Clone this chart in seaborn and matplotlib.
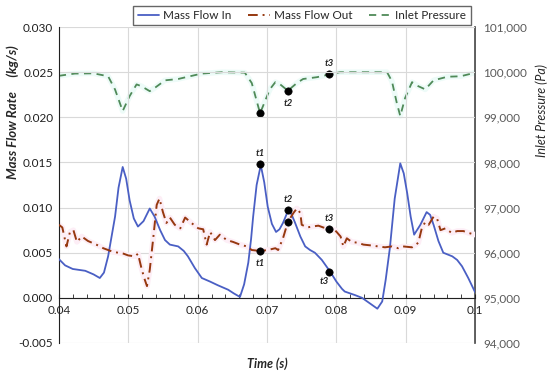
import numpy as np
import pandas as pd
import seaborn as sns
import matplotlib.pyplot as plt
from matplotlib.ticker import MultipleLocator, FuncFormatter

# mass flow in (kg/s)
t_in = [0.0400, 0.0409, 0.0420, 0.0438, 0.0450, 0.0459, 0.0465, 0.0471, 0.0476, 0.0481,
        0.0486, 0.0492, 0.0497, 0.0502, 0.0508, 0.0514, 0.0522, 0.0531, 0.0538, 0.0546,
        0.0553, 0.0560, 0.0572, 0.0580, 0.0586, 0.0596, 0.0606, 0.0618, 0.0629, 0.0644,
        0.0652, 0.0661, 0.0667, 0.0673, 0.0677, 0.0680, 0.0685, 0.0691, 0.0696, 0.0701,
        0.0707, 0.0713, 0.0718, 0.0723, 0.0730, 0.0735, 0.0740, 0.0748, 0.0755, 0.0762,
        0.0769, 0.0779, 0.0791, 0.0800, 0.0808, 0.0812, 0.0827, 0.0837, 0.0848, 0.0859,
        0.0866, 0.0871, 0.0877, 0.0884, 0.0892, 0.0897, 0.0902, 0.0907, 0.0912, 0.0921,
        0.0930, 0.0935, 0.0940, 0.0947, 0.0954, 0.0967, 0.0974, 0.0981, 0.0990, 0.1000]
flow_in = [0.0043, 0.0036, 0.0032, 0.0030, 0.0026, 0.0022, 0.0028, 0.0046, 0.0068, 0.0090,
           0.0122, 0.0145, 0.0132, 0.0108, 0.0088, 0.0079, 0.0085, 0.0099, 0.0090, 0.0075,
           0.0064, 0.0059, 0.0057, 0.0052, 0.0046, 0.0033, 0.0022, 0.0018, 0.0014, 0.0009,
           0.0005, 0.0001, 0.0015, 0.0039, 0.0065, 0.0090, 0.0125, 0.0147, 0.0128, 0.0101,
           0.0082, 0.0073, 0.0076, 0.0083, 0.0096, 0.0093, 0.0084, 0.0068, 0.0057, 0.0053,
           0.0050, 0.0042, 0.0029, 0.0018, 0.0010, 0.0007, 0.0003, 0.0000, -0.0006, -0.0012,
           -0.0004, 0.0020, 0.0055, 0.0110, 0.0149, 0.0138, 0.0116, 0.0090, 0.0070, 0.0081,
           0.0095, 0.0092, 0.0081, 0.0063, 0.0050, 0.0046, 0.0042, 0.0035, 0.0022, 0.0006]

# mass flow out (kg/s)
t_out = [0.0400, 0.0405, 0.0411, 0.0416, 0.0421, 0.0426, 0.0433, 0.0442, 0.0454, 0.0464,
         0.0478, 0.0493, 0.0500, 0.0510, 0.0514, 0.0519, 0.0523, 0.0527, 0.0531, 0.0536,
         0.0541, 0.0545, 0.0550, 0.0555, 0.0560, 0.0567, 0.0575, 0.0582, 0.0591, 0.0601,
         0.0608, 0.0613, 0.0618, 0.0625, 0.0632, 0.0642, 0.0651, 0.0661, 0.0671, 0.0678,
         0.0690, 0.0701, 0.0712, 0.0716, 0.0723, 0.0730, 0.0738, 0.0743, 0.0748, 0.0750,
         0.0758, 0.0765, 0.0774, 0.0781, 0.0791, 0.0798, 0.0806, 0.0810, 0.0815, 0.0822,
         0.0831, 0.0839, 0.0851, 0.0860, 0.0870, 0.0880, 0.0889, 0.0896, 0.0909, 0.0918,
         0.0923, 0.0928, 0.0933, 0.0940, 0.0945, 0.0950, 0.0957, 0.0966, 0.0974, 0.0983,
         0.0990, 0.1000]
flow_out = [0.0081, 0.0078, 0.0057, 0.0073, 0.0075, 0.0062, 0.0068, 0.0063, 0.0059, 0.0055,
            0.0051, 0.0049, 0.0047, 0.0046, 0.0049, 0.0033, 0.0022, 0.0013, 0.0031, 0.0066,
            0.0103, 0.0110, 0.0095, 0.0083, 0.0089, 0.0081, 0.0077, 0.0089, 0.0083, 0.0077,
            0.0076, 0.0059, 0.0073, 0.0064, 0.0070, 0.0064, 0.0062, 0.0059, 0.0057, 0.0053,
            0.0052, 0.0053, 0.0055, 0.0053, 0.0066, 0.0084, 0.0094, 0.0099, 0.0094, 0.0081,
            0.0078, 0.0079, 0.0080, 0.0078, 0.0076, 0.0075, 0.0068, 0.0057, 0.0066, 0.0062,
            0.0061, 0.0059, 0.0058, 0.0057, 0.0056, 0.0057, 0.0055, 0.0057, 0.0056, 0.0061,
            0.0077, 0.0084, 0.0081, 0.0090, 0.0088, 0.0075, 0.0077, 0.0072, 0.0074, 0.0074,
            0.0072, 0.0070]

# inlet pressure (Pa)
t_p = [0.0400, 0.0423, 0.0450, 0.0471, 0.0481, 0.0492, 0.0502, 0.0512, 0.0519, 0.0531,
       0.0538, 0.0553, 0.0572, 0.0586, 0.0606, 0.0635, 0.0668, 0.0678, 0.0690, 0.0704,
       0.0712, 0.0719, 0.0730, 0.0743, 0.0752, 0.0772, 0.0790, 0.0805, 0.0873, 0.0880,
       0.0887, 0.0892, 0.0899, 0.0909, 0.0918, 0.0928, 0.0940, 0.0960, 0.0979, 0.1000]
pressure = [99920, 99970, 99975, 99910, 99616, 99140, 99470, 99730, 99690, 99580,
            99650, 99820, 99850, 99900, 99970, 100000, 99990, 99760, 99090, 99620,
            99780, 99730, 99590, 99760, 99850, 99890, 99950, 100000, 100000, 99800,
            99320, 99030, 99430, 99780, 99690, 99620, 99820, 99900, 99910, 99990]

# marked instants
t_marks = [0.069, 0.073, 0.079]
in_marks = [0.0148, 0.0097, 0.0029]
out_marks = [0.0052, 0.0084, 0.0076]
p_marks = [99090, 99590, 99950]
mark_labels = ["t1", "t2", "t3"]

df_in = pd.DataFrame({"time": t_in, "flow": flow_in})
df_out = pd.DataFrame({"time": t_out, "flow": flow_out})
df_p = pd.DataFrame({"time": t_p, "pressure": pressure})

sns.set_style("white")
plt.rcParams["font.family"] = ["Lato", "DejaVu Sans"]

blue = "#4a5fc4"
red = "#96380f"
green = "#4f8a58"

fig = plt.figure(figsize=(5.5, 3.71), dpi=100)
ax = fig.add_axes([0.107, 0.0755, 0.757, 0.8515])
ax2 = ax.twinx()

# faint halos seen in the reference
ax.plot(df_out["time"], df_out["flow"], color="#fdeef6", lw=4, zorder=1)
ax2.plot(df_p["time"], df_p["pressure"], color="#edfbf8", lw=4, zorder=1)

sns.lineplot(data=df_in, x="time", y="flow", ax=ax, color=blue, lw=1.3, label="Mass Flow In",
             zorder=3)
sns.lineplot(data=df_out, x="time", y="flow", ax=ax, color=red, lw=1.4, label="Mass Flow Out",
             zorder=3, linestyle=(0, (5, 2.5, 1, 2.5)))
sns.lineplot(data=df_p, x="time", y="pressure", ax=ax2, color=green, lw=1.3, label="Inlet Pressure",
             zorder=3, linestyle=(0, (4, 3)))

sns.scatterplot(x=t_marks, y=in_marks, ax=ax, color="black", s=28, zorder=5,
                edgecolor="black", legend=False)
sns.scatterplot(x=t_marks, y=out_marks, ax=ax, color="black", s=28, zorder=5,
                edgecolor="black", legend=False)
sns.scatterplot(x=t_marks, y=p_marks, ax=ax2, color="black", s=28, zorder=5,
                edgecolor="black", legend=False)
for a in (ax, ax2):
    if a.get_legend() is not None:
        a.get_legend().remove()

lab = dict(fontsize=7, fontweight="bold", style="italic", ha="center", va="center",
           textcoords="offset points")
ax.annotate(mark_labels[0], (t_marks[0], in_marks[0]), xytext=(0, 8), **lab)
ax.annotate(mark_labels[0], (t_marks[0], out_marks[0]), xytext=(0, -9), **lab)
ax.annotate(mark_labels[1], (t_marks[1], in_marks[1]), xytext=(0, 8), **lab)
ax.annotate(mark_labels[2], (t_marks[2], out_marks[2]), xytext=(0, 8), **lab)
ax.annotate(mark_labels[2], (t_marks[2], in_marks[2]), xytext=(-4, -7), **lab)
ax2.annotate(mark_labels[1], (t_marks[1], p_marks[1]), xytext=(0, -9), **lab)
ax2.annotate(mark_labels[2], (t_marks[2], p_marks[2]), xytext=(0, 8), **lab)

ax.set_xlim(0.04, 0.1)
ax.set_ylim(-0.005, 0.030)
ax2.set_ylim(94000, 101000)
ax.set_zorder(ax2.get_zorder() + 1)
ax.patch.set_visible(False)

ax.xaxis.set_major_locator(MultipleLocator(0.01))
ax.xaxis.set_minor_locator(MultipleLocator(0.002))
ax.xaxis.set_major_formatter(FuncFormatter(lambda v, p: f"{v:g}"))
ax.yaxis.set_major_locator(MultipleLocator(0.005))
ax.yaxis.set_major_formatter(FuncFormatter(lambda v, p: f"{v:.3f}"))
ax2.yaxis.set_major_locator(MultipleLocator(1000))
ax2.yaxis.set_major_formatter(FuncFormatter(lambda v, p: f"{v:,.0f}"))

ax.grid(True, which="major", color="#d9d9d9", lw=0.8)
ax2.grid(False)
ax.set_axisbelow(True)

ax.spines["top"].set_visible(False)
ax2.spines["top"].set_visible(False)
ax2.spines["bottom"].set_visible(False)
ax2.spines["left"].set_visible(False)
ax.spines["right"].set_visible(False)
ax.spines["bottom"].set_position(("data", 0))
ax.spines["bottom"].set_color("#202020")
ax.spines["left"].set_color("#202020")
ax2.spines["right"].set_color("#404040")
ax2.spines["right"].set_linewidth(1.2)

ax.tick_params(axis="x", which="both", direction="in", length=3, color="#202020",
               labelsize=8.5, pad=5, bottom=True)
ax.tick_params(axis="y", length=0, labelsize=8.5, labelcolor="#202020", pad=4)
ax2.tick_params(axis="y", length=0, labelsize=8.5, labelcolor="#595959", pad=6)

ax.set_xlabel("Time (s)", fontsize=9, fontweight="bold", style="italic")
ax.xaxis.set_label_coords(0.5, -0.045)
ax.set_ylabel("Mass Flow Rate     (kg/s)", fontsize=9.5, fontweight="bold", style="italic")
ax.yaxis.set_label_coords(-0.095, 0.73)
ax2.set_ylabel("Inlet Pressure (Pa)", fontsize=9, style="italic")
ax2.yaxis.set_label_coords(1.145, 0.735)

h1, l1 = ax.get_legend_handles_labels()
h2, l2 = ax2.get_legend_handles_labels()
fig.legend(h1 + h2, l1 + l2, loc="upper center", bbox_to_anchor=(0.549, 1.0), ncol=3,
           fontsize=8.5, frameon=True, fancybox=False, edgecolor="#404040", handlelength=1.8,
           columnspacing=1.4, borderpad=0.35, handletextpad=0.4)

fig.savefig("out.png", dpi=100)
